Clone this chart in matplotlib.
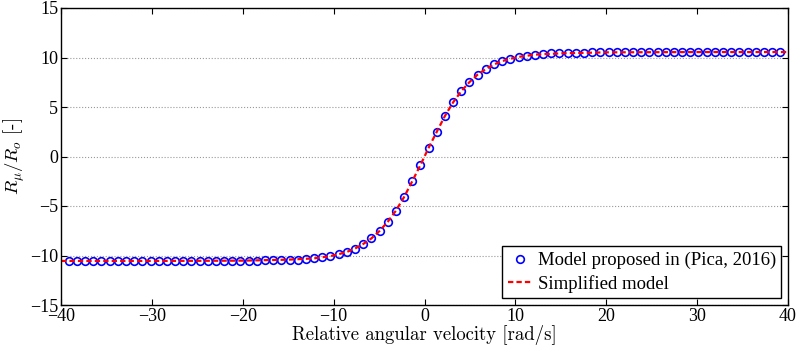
import numpy as np
import matplotlib.pyplot as plt

# relative angular velocity [rad/s] (marker positions)
omega = [-39.15, -38.25, -37.35, -36.45, -35.55, -34.65, -33.75, -32.85, -31.95, -31.05,
         -30.15, -29.25, -28.35, -27.45, -26.55, -25.65, -24.75, -23.85, -22.95, -22.05,
         -21.15, -20.25, -19.35, -18.45, -17.55, -16.65, -15.75, -14.85, -13.95, -13.05,
         -12.15, -11.25, -10.35, -9.45, -8.55, -7.65, -6.75, -5.85, -4.95, -4.05,
         -3.15, -2.25, -1.35, -0.45,
         0.45, 1.35, 2.25, 3.15, 4.05, 4.95, 5.85, 6.75, 7.65, 8.55,
         9.45, 10.35, 11.25, 12.15, 13.05, 13.95, 14.85, 15.75, 16.65, 17.55,
         18.45, 19.35, 20.25, 21.15, 22.05, 22.95, 23.85, 24.75, 25.65, 26.55,
         27.45, 28.35, 29.25, 30.15, 31.05, 31.95, 32.85, 33.75, 34.65, 35.55,
         36.45, 37.35, 38.25, 39.15]

# R_mu / R_o, model proposed in (Pica, 2016)
ratio_pica = [-10.55, -10.55, -10.55, -10.55, -10.55, -10.55, -10.55, -10.55, -10.55, -10.55,
              -10.55, -10.55, -10.55, -10.55, -10.54, -10.54, -10.54, -10.54, -10.53, -10.53,
              -10.53, -10.52, -10.52, -10.51, -10.50, -10.49, -10.47, -10.45, -10.41, -10.36,
              -10.29, -10.19, -10.06, -9.87, -9.64, -9.30, -8.84, -8.28, -7.52, -6.60,
              -5.47, -4.10, -2.50, -0.87,
              0.87, 2.50, 4.10, 5.47, 6.60, 7.52, 8.28, 8.84, 9.30, 9.64,
              9.87, 10.06, 10.19, 10.29, 10.36, 10.41, 10.45, 10.47, 10.49, 10.50,
              10.51, 10.52, 10.52, 10.53, 10.53, 10.53, 10.54, 10.54, 10.54, 10.54,
              10.55, 10.55, 10.55, 10.55, 10.55, 10.55, 10.55, 10.55, 10.55, 10.55,
              10.55, 10.55, 10.55, 10.55]

# simplified model
omega_simple = [-40, -30, -20, -15, -12.15, -10.35, -9.45, -8.55, -7.65, -6.75, -5.85, -4.95,
                -4.05, -3.15, -2.25, -1.35, -0.45, 0.45, 1.35, 2.25, 3.15, 4.05, 4.95,
                5.85, 6.75, 7.65, 8.55, 9.45, 10.35, 12.15, 15, 20, 30, 40]
ratio_simple = [-10.55, -10.55, -10.52, -10.42, -10.29, -10.06, -9.87, -9.64, -9.30, -8.84, -8.28, -7.52,
                -6.60, -5.47, -4.10, -2.50, -0.87, 0.87, 2.50, 4.10, 5.47, 6.60, 7.52,
                8.28, 8.84, 9.30, 9.64, 9.87, 10.06, 10.29, 10.42, 10.52, 10.55, 10.55]

plt.rcParams['font.family'] = 'Liberation Serif'
plt.rcParams['mathtext.fontset'] = 'cm'

fig = plt.figure(figsize=(7.97, 3.53), dpi=100)
ax = fig.add_axes([61 / 797, 1 - 305 / 353, 727 / 797, 297 / 353])

ax.plot(omega, ratio_pica, linestyle='none', marker='o', markersize=5.5,
        markerfacecolor='none', markeredgecolor='blue', markeredgewidth=1.2,
        label='Model proposed in (Pica, 2016)')
ax.plot(omega_simple, ratio_simple, color='red', linestyle='--', linewidth=1.6,
        dashes=(2.4, 1.4), label='Simplified model')

ax.set_xlim(-40, 40)
ax.set_ylim(-15, 15)
ax.set_xticks(np.arange(-40, 41, 10))
ax.set_yticks(np.arange(-15, 16, 5))
ax.yaxis.grid(True, linestyle=':', color='#999999', linewidth=0.8)
ax.tick_params(direction='in', top=True, right=True, labelsize=13, length=4.5, width=0.8, pad=2)
for sp in ax.spines.values():
    sp.set_linewidth(1.0)

ax.set_xlabel('Relative angular velocity [rad/s]', family='cmr10', fontsize=13.5, labelpad=0)
ax.set_ylabel(r'$R_{\mu}/R_{o}$ [-]', family='cmr10', fontsize=13.5, labelpad=2)

leg = ax.legend(loc='lower right', fontsize=13.5, fancybox=False, edgecolor='black',
                framealpha=1, borderaxespad=0.35, handlelength=1.3, handletextpad=0.3,
                borderpad=0.3, labelspacing=0.3)
leg.get_frame().set_linewidth(1.0)

fig.savefig('out.png', dpi=100)
